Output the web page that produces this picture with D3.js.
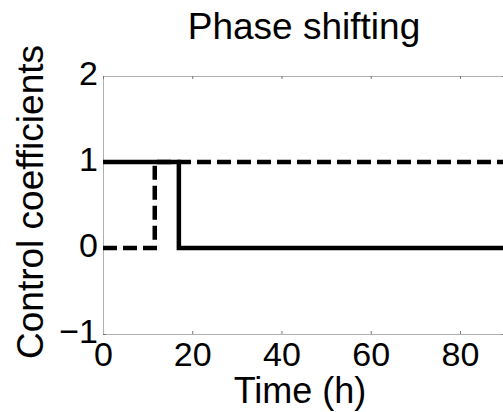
<!DOCTYPE html>
<html>
<head>
<meta charset="utf-8">
<script src="https://cdn.jsdelivr.net/npm/d3@7"></script>
<style>
  body { margin: 0; background: #fff; }
  svg text { font-family: "Liberation Sans", Arial, Helvetica, sans-serif; fill: #000; }
</style>
</head>
<body>
<svg id="chart" width="503" height="412"></svg>
<script>
// step series (time in h, coefficient value)
var dashedTime = [0, 11.6, 90];
var dashedValue = [0, 1, 1];
var solidTime = [0, 17, 90];
var solidValue = [1, 0, 0];

var xTicks = [0, 20, 40, 60, 80];
var yTicks = [-1, 0, 1, 2];

var svg = d3.select("#chart"),
    MARGINS = { top: 76, left: 103, bottom: 78 },
    WIDTH = 503, HEIGHT = 412,
    plotRight = 504.6;

var xScale = d3.scaleLinear().domain([0, 90]).range([MARGINS.left, plotRight]),
    yScale = d3.scaleLinear().domain([-1, 2]).range([HEIGHT - MARGINS.bottom, MARGINS.top]);

var axisColor = "#b0b0b0";

function styleAxis(g) {
  g.selectAll("path.domain").attr("stroke", axisColor);
  g.selectAll(".tick line").attr("stroke", "#777");
}

// bottom axis with labels
var gx = svg.append("g")
  .attr("transform", "translate(0," + yScale(-1) + ")")
  .call(d3.axisBottom(xScale).tickValues(xTicks).tickFormat(d3.format("d"))
    .tickSizeInner(-3).tickSizeOuter(0).tickPadding(8));
gx.selectAll("text").style("font-size", "34px");
styleAxis(gx);

// left axis with labels
var gy = svg.append("g")
  .attr("transform", "translate(" + MARGINS.left + ",0)")
  .call(d3.axisLeft(yScale).tickValues(yTicks).tickFormat(d3.format("d"))
    .tickSizeInner(-3).tickSizeOuter(0).tickPadding(5));
gy.selectAll("text").style("font-size", "34px").attr("dy", "0.25em");
styleAxis(gy);

// box: top and right
var gt = svg.append("g")
  .attr("transform", "translate(0," + yScale(2) + ")")
  .call(d3.axisTop(xScale).tickValues(xTicks.concat([90])).tickSizeInner(-3).tickSizeOuter(0).tickFormat(""));
styleAxis(gt);
var gr = svg.append("g")
  .attr("transform", "translate(" + plotRight + ",0)")
  .call(d3.axisRight(yScale).tickValues(yTicks).tickSizeInner(-3).tickSizeOuter(0).tickFormat(""));
styleAxis(gr);

// lines
var lineGen = d3.line()
  .x(function(d) { return xScale(d.t); })
  .y(function(d) { return yScale(d.v); })
  .curve(d3.curveStepAfter);

var dashed = dashedTime.map(function(t, i) { return { t: t, v: dashedValue[i] }; });
var solid = solidTime.map(function(t, i) { return { t: t, v: solidValue[i] }; });

svg.append("path")
  .attr("d", lineGen(dashed))
  .attr("fill", "none")
  .attr("stroke", "#000")
  .attr("stroke-width", 4.5)
  .attr("stroke-dasharray", "14,6");

svg.append("path")
  .attr("d", lineGen(solid))
  .attr("fill", "none")
  .attr("stroke", "#000")
  .attr("stroke-width", 4.5);

// title and axis labels
svg.append("text")
  .attr("x", 304).attr("y", 39)
  .attr("text-anchor", "middle")
  .style("font-size", "37px")
  .text("Phase shifting");

svg.append("text")
  .attr("x", 300).attr("y", 403)
  .attr("text-anchor", "middle")
  .style("font-size", "36px")
  .text("Time (h)");

svg.append("text")
  .attr("transform", "rotate(-90)")
  .attr("x", -202).attr("y", 43)
  .attr("text-anchor", "middle")
  .style("font-size", "37px")
  .text("Control coefficients");
</script>
</body>
</html>
